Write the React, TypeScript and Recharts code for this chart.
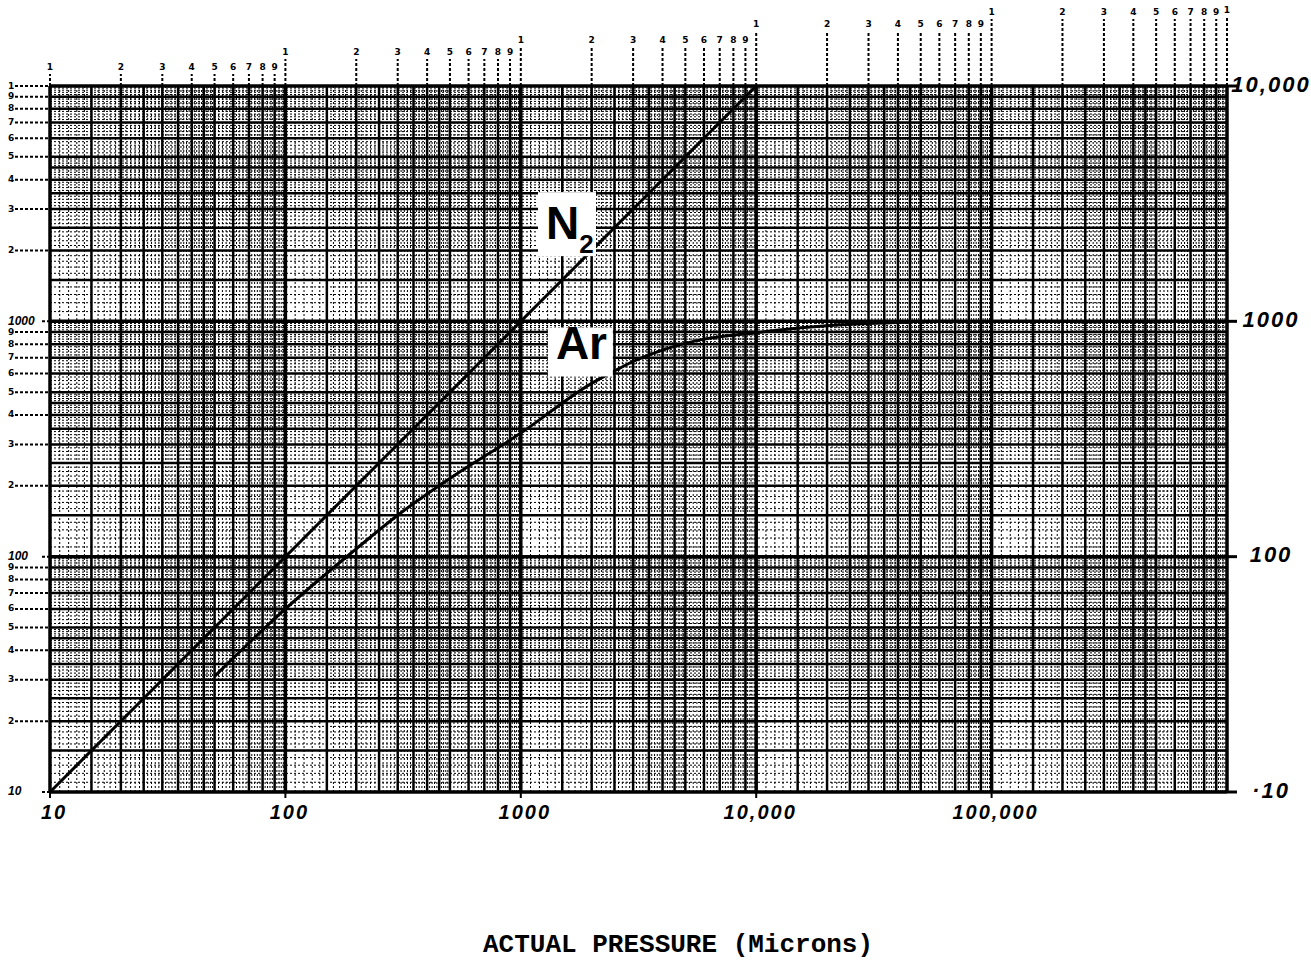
import React from 'react';
import { ComposedChart, Line, XAxis, YAxis, ReferenceLine, ReferenceDot } from 'recharts';

// log-log paper: 5 decades of pressure, 3 decades of reading
const xDecades = [10, 100, 1000, 10000, 100000, 1000000];
const yDecades = [10, 100, 1000, 10000];
const heavySteps = [1.5, 2, 2.5, 3, 3.5, 4, 4.5, 5, 6, 7, 8, 9];
const fineSteps = [
  1.1, 1.2, 1.3, 1.4, 1.6, 1.7, 1.8, 1.9,
  2.1, 2.2, 2.3, 2.4, 2.6, 2.7, 2.8, 2.9,
  3.1, 3.2, 3.3, 3.4, 3.6, 3.7, 3.8, 3.9,
  4.1, 4.2, 4.3, 4.4, 4.6, 4.7, 4.8, 4.9,
  5.2, 5.4, 5.6, 5.8, 6.2, 6.4, 6.6, 6.8,
  7.2, 7.4, 7.6, 7.8, 8.2, 8.4, 8.6, 8.8, 9.2, 9.4, 9.6, 9.8,
];
const scaleDigits = [1, 2, 3, 4, 5, 6, 7, 8, 9];

const bottomTicks = [10, 100, 1000, 10000, 100000];
const bottomLabels = ['10', '100', '1000', '10,000', '100,000'];
const rightTicks = [10, 100, 1000, 10000];
const rightLabels = ['·10', '100', '1000', '10,000'];

// N2 reads true; argon falls away and levels off near 1000
const n2Pressure = [10, 10000];
const n2Reading = [10, 10000];
const arPressure = [50, 100, 200, 300, 500, 1000, 2000, 2500, 3000, 4000, 6000, 10000, 17000, 30000, 45000];
const arReading = [31, 60, 108, 150, 215, 335, 545, 615, 675, 755, 840, 895, 945, 978, 990];

const n2Data = n2Pressure.map((x, i) => ({ x, y: n2Reading[i] }));
const arData = arPressure.map((x, i) => ({ x, y: arReading[i] }));

const multiples = (decades: number[]) => {
  const out: number[] = [];
  decades.slice(0, -1).forEach(d => scaleDigits.forEach(m => out.push(m * d)));
  out.push(decades[decades.length - 1]);
  return out;
};
const topTicks = multiples(xDecades);
const leftTicks = multiples(yDecades);
const gridValues = (decades: number[], steps: number[]) =>
  decades.slice(0, -1).flatMap(d => steps.map(s => s * d));

const hand = { fontFamily: 'Liberation Sans, Arial, sans-serif', fontStyle: 'italic', fontWeight: 700 };
// how far above the frame each decade's digits sit (the scan is skewed)
const topLift = [19, 34, 46, 62, 74, 76];

const TopTick = ({ x, y, payload }: any) => {
  const v = payload.value;
  const k = Math.floor(Math.log10(v) + 1e-9);
  const m = Math.round(v / Math.pow(10, k));
  const lift = topLift[k - 1];
  return (
    <g>
      <line x1={x} x2={x} y1={y} y2={y - lift + 7} stroke="#000" strokeWidth={2} strokeDasharray="3 2" />
      <text x={x} y={y - lift} textAnchor="middle" dominantBaseline="middle" fontSize={9} fontWeight={700} fontFamily="DejaVu Sans, sans-serif">{m}</text>
    </g>
  );
};

const LeftTick = ({ x, y, payload }: any) => {
  const v = payload.value;
  const k = Math.floor(Math.log10(v) + 1e-9);
  const m = Math.round(v / Math.pow(10, k));
  let label = String(m);
  let start = x - 35;
  let style: any = { fontSize: 9, fontWeight: 700, fontFamily: 'DejaVu Sans, sans-serif' };
  if (m === 1 && k < 4) {
    label = String(v);
    start = x - 8;
    style = { ...hand, fontSize: 12 };
  }
  return (
    <g>
      <line x1={start} x2={x} y1={y} y2={y} stroke="#000" strokeWidth={2} strokeDasharray="3 2" />
      <text x={x - 42} y={y} textAnchor="start" dominantBaseline="middle" {...style}>{label}</text>
    </g>
  );
};

const RightTick = ({ x, y, index }: any) => (
  <text x={x + 30} y={y} textAnchor="middle" dominantBaseline="middle" fontSize={22} letterSpacing={2} {...hand}>
    {rightLabels[index]}
  </text>
);

const BottomTick = ({ x, y, index }: any) => (
  <text x={x + 4} y={y + 14} textAnchor="middle" dominantBaseline="middle" fontSize={20} letterSpacing={2} {...hand}>
    {bottomLabels[index]}
  </text>
);

const Tag = ({ cx, cy, main, sub, w, h }: any) => (
  <g>
    <rect x={cx - w / 2} y={cy - h / 2} width={w} height={h} fill="#fff" />
    <text x={cx - w / 2 + 8} y={cy + h / 2 - 17} fontFamily="Liberation Sans, Arial, sans-serif" fontWeight={700} fontSize={46}>
      {main}
      {sub && <tspan fontSize={26} dy={14}>{sub}</tspan>}
    </text>
  </g>
);

export default function App() {
  const xHeavy = gridValues(xDecades, heavySteps);
  const xFine = gridValues(xDecades, fineSteps);
  const yHeavy = gridValues(yDecades, heavySteps);
  const yFine = gridValues(yDecades, fineSteps);

  return (
    <div style={{ position: 'absolute', left: 0, top: 0, width: 1311, height: 962, background: '#fff' }}>
      <ComposedChart width={1311} height={962} margin={{ top: 0, right: 0, bottom: 0, left: 0 }}>
        <XAxis xAxisId="t" orientation="top" dataKey="x" type="number" scale="log" domain={[10, 1000000]}
          allowDataOverflow ticks={topTicks} interval={0} height={86} axisLine={false} tickLine={false}
          tickSize={0} tickMargin={0} tick={<TopTick />} />
        <XAxis xAxisId="b" orientation="bottom" dataKey="x" type="number" scale="log" domain={[10, 1000000]}
          allowDataOverflow ticks={bottomTicks} interval={0} height={170} axisLine={false}
          tickLine={{ stroke: '#000', strokeWidth: 2 }} tickSize={6} tickMargin={2} tick={<BottomTick />} />
        <YAxis yAxisId="l" orientation="left" type="number" scale="log" domain={[10, 10000]} allowDataOverflow
          ticks={leftTicks} interval={0} width={50} axisLine={false} tickLine={false} tickSize={0} tickMargin={0}
          tick={<LeftTick />} />
        <YAxis yAxisId="r" orientation="right" type="number" scale="log" domain={[10, 10000]} allowDataOverflow
          ticks={rightTicks} interval={0} width={84} axisLine={false}
          tickLine={{ stroke: '#000', strokeWidth: 3 }} tickSize={10} tickMargin={4} tick={<RightTick />} />

        {/* fine ruling, then the heavy ruling, then decade lines */}
        {xFine.map(v => (
          <ReferenceLine key={'xf' + v} xAxisId="b" yAxisId="l" x={v} stroke="#000" strokeWidth={1} strokeDasharray="2 2" />
        ))}
        {yFine.map(v => (
          <ReferenceLine key={'yf' + v} xAxisId="b" yAxisId="l" y={v} stroke="#000" strokeWidth={1} strokeDasharray="2 2" />
        ))}
        {xHeavy.map(v => (
          <ReferenceLine key={'xh' + v} xAxisId="b" yAxisId="l" x={v} stroke="#000" strokeWidth={2.5} />
        ))}
        {yHeavy.map(v => (
          <ReferenceLine key={'yh' + v} xAxisId="b" yAxisId="l" y={v} stroke="#000" strokeWidth={2.5} />
        ))}
        {xDecades.map(v => (
          <ReferenceLine key={'xd' + v} xAxisId="b" yAxisId="l" x={v} stroke="#000" strokeWidth={3.5} />
        ))}
        {yDecades.map(v => (
          <ReferenceLine key={'yd' + v} xAxisId="b" yAxisId="l" y={v} stroke="#000" strokeWidth={3.5} />
        ))}

        <Line xAxisId="b" yAxisId="l" data={n2Data} dataKey="y" type="linear" stroke="#000" strokeWidth={3}
          dot={false} isAnimationActive={false} />
        <Line xAxisId="b" yAxisId="l" data={arData} dataKey="y" type="monotone" stroke="#000" strokeWidth={3}
          dot={false} isAnimationActive={false} />

        <ReferenceDot xAxisId="b" yAxisId="l" x={1571} y={2588} r={1}
          shape={(p: any) => <Tag cx={p.cx} cy={p.cy} w={58} h={64} main="N" sub="2" />} />
        <ReferenceDot xAxisId="b" yAxisId="l" x={1791} y={741} r={1}
          shape={(p: any) => <Tag cx={p.cx} cy={p.cy} w={65} h={49} main="Ar" />} />
      </ComposedChart>
      <div style={{
        position: 'absolute', left: 483, top: 930, fontFamily: 'Liberation Mono, Courier New, monospace',
        fontWeight: 700, fontSize: 26, lineHeight: '30px', whiteSpace: 'nowrap',
      }}>
        ACTUAL PRESSURE (Microns)
      </div>
    </div>
  );
}
